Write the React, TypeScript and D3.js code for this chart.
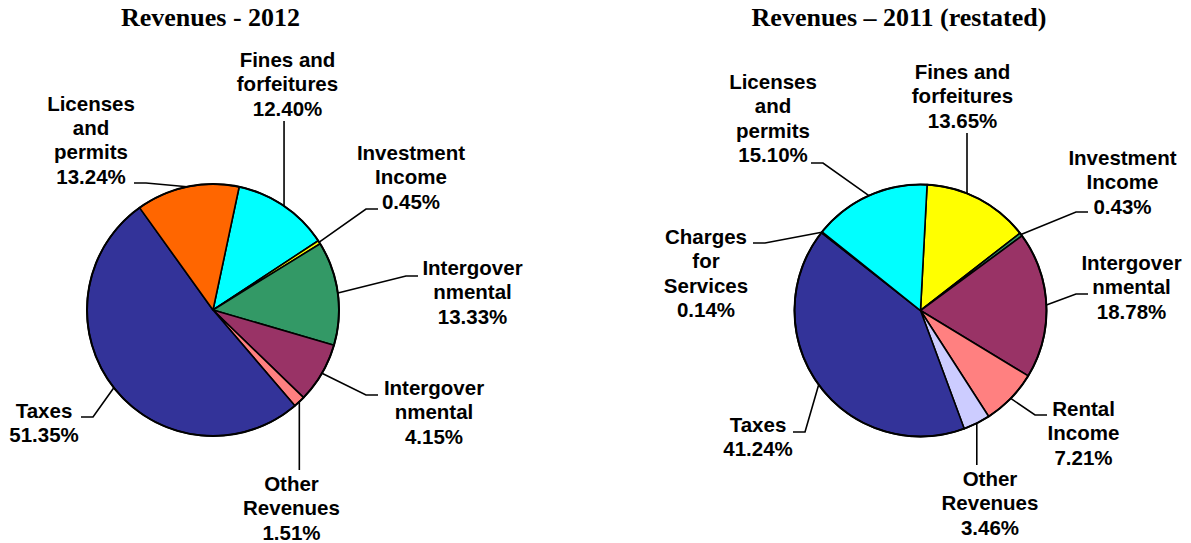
import React from 'react';
import { pie, arc } from 'd3';

// ---- data ----
const categories2012 = [
  'Fines and\nforfeitures',
  'Investment\nIncome',
  'Intergover\nnmental',
  'Intergover\nnmental',
  'Other\nRevenues',
  'Taxes',
  'Licenses\nand\npermits',
];
const values2012 = [12.4, 0.45, 13.33, 4.15, 1.51, 51.35, 13.24];
const colors2012 = ['#00FFFF', '#FFFF00', '#339966', '#993366', '#FF8080', '#333399', '#FF6600'];

const categories2011 = [
  'Fines and\nforfeitures',
  'Investment\nIncome',
  'Intergover\nnmental',
  'Rental\nIncome',
  'Other\nRevenues',
  'Taxes',
  'Charges\nfor\nServices',
  'Licenses\nand\npermits',
];
const values2011 = [13.65, 0.43, 18.78, 7.21, 3.46, 41.24, 0.14, 15.1];
const colors2011 = ['#FFFF00', '#339966', '#993366', '#FF8080', '#CCCCFF', '#333399', '#FF6600', '#00FFFF'];

// the 2012 labels only add up to 96.43%; in the picture the unlabeled rest
// sits inside the 4.15% purple slice, so it is drawn there
const sum2012 = values2012.reduce((a, b) => a + b, 0);
const drawn2012 = values2012.map((v, i) => (i === 3 ? v + (100 - sum2012) : v));

// ---- layout ----
const deg = Math.PI / 180;
const R = 126;
const lineH = 24.4;

// v: vertical leader (ax = fixed x, else the slice middle), h: short stub then diagonal
type Lab = { x: number; y: number; kind: 'v' | 'h'; ax?: number; ay: number };

const layout2012: Lab[] = [
  { x: 287.5, y: 67, kind: 'v', ay: 121 },
  { x: 411, y: 160, kind: 'h', ax: 378, ay: 209 },
  { x: 472.5, y: 275, kind: 'h', ax: 418, ay: 276 },
  { x: 434, y: 395, kind: 'h', ax: 378, ay: 395 },
  { x: 291.5, y: 491, kind: 'v', ay: 470 },
  { x: 44, y: 418, kind: 'h', ax: 81, ay: 417 },
  { x: 91, y: 110.5, kind: 'h', ax: 134, ay: 183 },
];

const layout2011: Lab[] = [
  { x: 962.5, y: 79, kind: 'v', ax: 967, ay: 133 },
  { x: 1122.5, y: 165, kind: 'h', ax: 1088, ay: 212 },
  { x: 1131.5, y: 270, kind: 'h', ax: 1088, ay: 294 },
  { x: 1083.5, y: 416, kind: 'h', ax: 1047, ay: 415 },
  { x: 990, y: 486, kind: 'v', ay: 465 },
  { x: 758, y: 432, kind: 'h', ax: 793, ay: 432 },
  { x: 706, y: 244, kind: 'h', ax: 753, ay: 243 },
  { x: 773, y: 89, kind: 'h', ax: 811, ay: 163 },
];

const labelFont = '"Liberation Sans", Arial, sans-serif';
const titleFont = '"Liberation Serif", "Times New Roman", serif';

function Pie({
  cx,
  cy,
  title,
  titleX,
  values,
  labels,
  drawn,
  colors,
  layout,
  start,
}: {
  cx: number;
  cy: number;
  title: string;
  titleX: number;
  values: number[];
  labels: string[];
  drawn: number[];
  colors: string[];
  layout: Lab[];
  start: number;
}) {
  const arcs = pie<number>()
    .sort(null)
    .value((d) => d)
    .startAngle(start * deg)
    .endAngle(start * deg + 2 * Math.PI)(drawn);
  const arcGen = arc<any>().innerRadius(0).outerRadius(R);

  return (
    <g>
      <text
        x={titleX}
        y={26}
        textAnchor="middle"
        fontFamily={titleFont}
        fontWeight="bold"
        fontSize={26}
      >
        {title}
      </text>
      <g transform={`translate(${cx},${cy})`}>
        {arcs.map((a, i) => (
          <path
            key={i}
            d={arcGen(a) || ''}
            fill={colors[i]}
            stroke="#000"
            strokeWidth={1.6}
            strokeLinejoin="round"
          />
        ))}
        <circle r={R} fill="none" stroke="#000" strokeWidth={2} />
      </g>
      {arcs.map((a, i) => {
        const L = layout[i];
        const mid = (a.startAngle + a.endAngle) / 2;
        let ex = cx + R * Math.sin(mid);
        let ey = cy - R * Math.cos(mid);
        let pts: [number, number][];
        if (L.kind === 'v') {
          if (L.ax !== undefined) {
            const dx = L.ax - cx;
            const dy = Math.sqrt(R * R - dx * dx);
            ex = L.ax;
            ey = L.ay < cy ? cy - dy : cy + dy;
          }
          pts = [
            [ex, L.ay],
            [ex, ey],
          ];
        } else {
          const ax = L.ax as number;
          const dir = ax < cx ? 1 : -1;
          pts = [
            [ax, L.ay],
            [ax + dir * 12, L.ay],
            [ex, ey],
          ];
        }
        const lines = [...labels[i].split('\n'), values[i].toFixed(2) + '%'];
        return (
          <g key={'l' + i}>
            <polyline
              points={pts.map((p) => p.join(',')).join(' ')}
              fill="none"
              stroke="#000"
              strokeWidth={1.6}
            />
            <text
              textAnchor="middle"
              fontFamily={labelFont}
              fontWeight="bold"
              fontSize={20.5}
              fill="#000"
            >
              {lines.map((t, j) => (
                <tspan key={j} x={L.x} y={L.y + j * lineH}>
                  {t}
                </tspan>
              ))}
            </text>
          </g>
        );
      })}
    </g>
  );
}

function App() {
  return (
    <svg
      width={1191}
      height={543}
      style={{ position: 'absolute', left: 0, top: 0, background: '#fff' }}
    >
      <Pie
        cx={213}
        cy={310}
        title="Revenues - 2012"
        titleX={210.5}
        values={values2012}
        labels={categories2012}
        drawn={drawn2012}
        colors={colors2012}
        layout={layout2012}
        start={12}
      />
      <Pie
        cx={920.5}
        cy={310.5}
        title="Revenues – 2011 (restated)"
        titleX={899}
        values={values2011}
        labels={categories2011}
        drawn={values2011}
        colors={colors2011}
        layout={layout2011}
        start={3}
      />
    </svg>
  );
}

export default App;
